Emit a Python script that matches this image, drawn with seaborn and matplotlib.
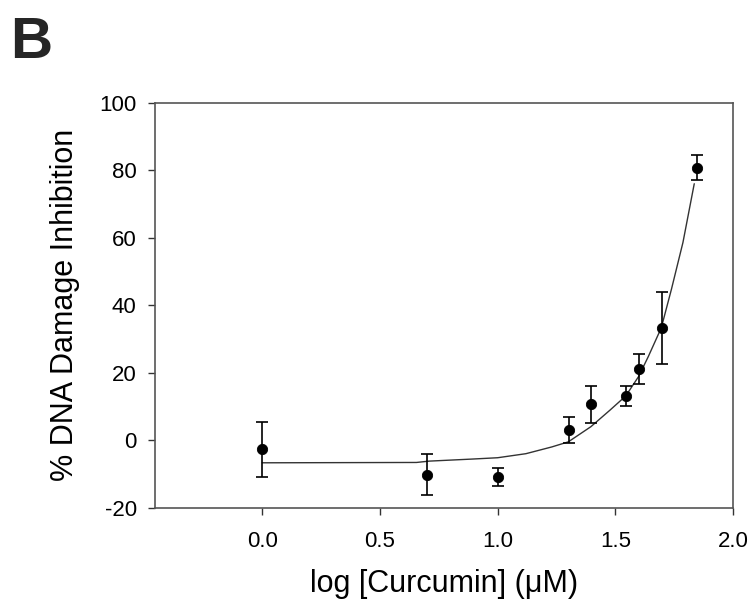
import numpy as np
import pandas as pd
import seaborn as sns
import matplotlib.pyplot as plt

# measured points (log concentration, % inhibition, error)
log_conc = [0.0, 0.699, 1.0, 1.301, 1.398, 1.544, 1.602, 1.699, 1.845]
inhibition = [-2.7, -10.2, -10.9, 3.1, 10.6, 13.1, 21.1, 33.3, 80.8]
err = [8.1, 6.1, 2.8, 3.9, 5.5, 3.1, 4.5, 10.6, 3.7]

# fitted curve
fit_x = [0.0, 0.655, 0.71, 0.89, 1.0, 1.12, 1.23, 1.30, 1.396, 1.477, 1.544,
         1.599, 1.64, 1.695, 1.738, 1.787, 1.835]
fit_y = [-6.7, -6.6, -6.2, -5.6, -5.2, -4.0, -2.0, -0.5, 4.0, 8.9, 13.1,
         18.9, 24.8, 33.3, 44.7, 58.6, 76.0]

df = pd.DataFrame({'x': log_conc, 'y': inhibition, 'err': err})
fit = pd.DataFrame({'x': fit_x, 'y': fit_y})

sns.set_theme(style='ticks')
plt.rcParams['font.family'] = ['Liberation Sans', 'DejaVu Sans']
plt.rcParams['axes.unicode_minus'] = False

fig = plt.figure(figsize=(7.55, 6.08), dpi=100)
ax = fig.add_axes([0.205, 0.165, 0.766, 0.666])

sns.lineplot(data=fit, x='x', y='y', ax=ax, color='#333333', linewidth=1.0,
             sort=False)
ax.errorbar(df['x'], df['y'], yerr=df['err'], fmt='none', ecolor='black',
            elinewidth=1.2, capsize=4.5, capthick=1.2)
sns.scatterplot(data=df, x='x', y='y', ax=ax, color='black', s=55,
                edgecolor='black', zorder=3)

ax.set_xlim(-0.456, 2.0)
ax.set_ylim(-20, 100)
ax.set_xticks([0.0, 0.5, 1.0, 1.5, 2.0])
ax.set_xticklabels(['0.0', '0.5', '1.0', '1.5', '2.0'])
ax.set_yticks([-20, 0, 20, 40, 60, 80, 100])

for side in ['top', 'right', 'left', 'bottom']:
    ax.spines[side].set_visible(True)
    ax.spines[side].set_color('#555555')
    ax.spines[side].set_linewidth(1.2)
ax.tick_params(direction='out', length=5, width=1.0, color='#333333',
               labelsize=16, labelcolor='black')
ax.tick_params(axis='x', pad=12)
ax.tick_params(axis='y', pad=8)

ax.set_xlabel('log [Curcumin] (\u03bcM)', fontsize=22, labelpad=12,
              color='black')
ax.set_ylabel('% DNA Damage Inhibition', fontsize=22, labelpad=14,
              color='black')

fig.text(0.014, 0.905, 'B', fontsize=42, fontweight='bold')

fig.savefig('out.png', dpi=100)
